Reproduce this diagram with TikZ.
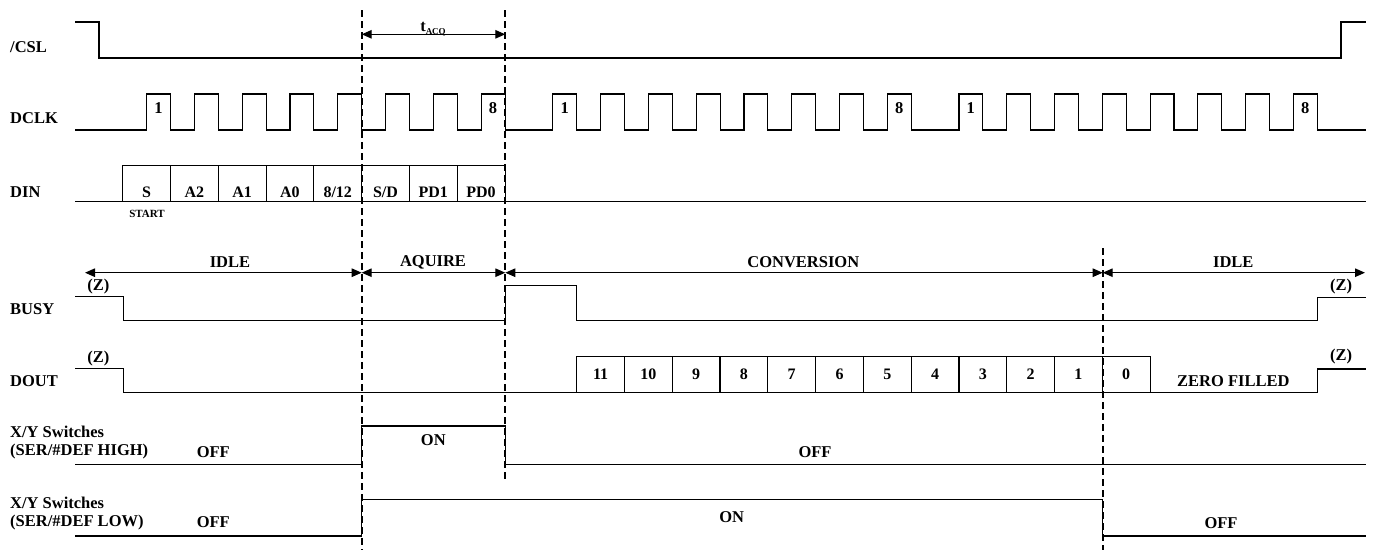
\documentclass[tikz,border=0pt]{standalone}
\usepackage{fontspec}
\setmainfont{Liberation Serif}
\usetikzlibrary{arrows.meta}
\begin{document}
\begin{tikzpicture}[x=1pt,y=-1pt,
  sig/.style={line width=1.1pt, line join=miter},
  vdash/.style={line width=2pt, dash pattern=on 7pt off 4pt},
  lbl/.style={inner sep=0pt, font=\fontsize{16.5}{18}\selectfont\bfseries},
  boxlbl/.style={inner sep=0pt, font=\fontsize{16}{18}\selectfont\bfseries},
  small/.style={inner sep=0pt, font=\fontsize{11}{12}\selectfont\bfseries},
  dim/.style={line width=1.1pt, {Triangle[length=10pt,width=8.5pt]}-{Triangle[length=10pt,width=8.5pt]}},
]
\useasboundingbox (0,0) rectangle (1374,550);

% ---------- signal names ----------
\node[lbl, anchor=west] (nCSL)  at (10,47)    {/CSL};
\node[lbl, anchor=west] (nDCLK) at (10,118)   {DCLK};
\node[lbl, anchor=west] (nDIN)  at (10,192)   {DIN};
\node[lbl, anchor=west] (nBUSY) at (10,309)   {BUSY};
\node[lbl, anchor=west] (nDOUT) at (10,380.7) {DOUT};
\node[lbl, anchor=west] (nXYa)  at (10,431.7) {X/Y Switches};
\node[lbl, anchor=west] (nXYb)  at (10,451.7) {(SER/\#DEF HIGH)};
\node[lbl, anchor=west] (nXYc)  at (10,503.3) {X/Y Switches};
\node[lbl, anchor=west] (nXYd)  at (10,522.3) {(SER/\#DEF LOW)};

% ---------- /CSL ----------
\draw[sig] (75,22) -- (99,22) -- (99,58) -- (1341,58) -- (1341,22) -- (1366,22);

% ---------- DCLK ----------
\draw[sig] (75,130)
  \foreach \k in {0,1,2,3,4,5,6,7,8.5,9.5,10.5,11.5,12.5,13.5,14.5,15.5,17,18,19,20,21,22,23,24}{
    -- ({146.7+\k*47.78},130) -- ++(0,-36) -- ++(23.89,0) -- ++(0,36)}
  -- (1366,130);
\foreach \k/\t/\n in {0/1/a,7/8/b,8.5/1/c,15.5/8/d,17/1/e,24/8/f}
  \node[lbl] (clk\n) at ({158.6+\k*47.78},108) {\t};

% ---------- DIN ----------
\draw[sig] (75,201.7) -- (1366,201.7);
\draw[sig] (122.7,201.7) -- (122.7,165.7) -- (505.3,165.7) -- (505.3,201.7);
\foreach \i in {0,...,6}
  \draw[sig] ({170.6+\i*47.78},165.7) -- ++(0,36);
\foreach \t [count=\i from 0] in {S,A2,A1,A0,8/12,S/D,PD1,PD0}
  \node[boxlbl] (din\i) at ({146.6+\i*47.78},192) {\t};
\node[small] (start) at (147,214) {START};

% ---------- dashed markers ----------
\draw[vdash] (361.7,10) -- (361.7,550);
\draw[vdash] (505.3,10) -- (505.3,479);
\draw[vdash] (1102.7,248) -- (1102.7,550);

% ---------- t_ACQ ----------
\coordinate (acqL) at (361.7,34.3);
\coordinate (acqR) at (505.3,34.3);
\draw[dim] (acqL) -- (acqR);
\node[lbl, anchor=base] (tacq) at (433,31.5) {t\raisebox{-3pt}{\fontsize{9}{9}\selectfont ACQ}};

% ---------- phases ----------
\coordinate (p0) at (85,272.7);
\coordinate (p1) at (361.7,272.7);
\coordinate (p2) at (505.3,272.7);
\coordinate (p3) at (1102.7,272.7);
\coordinate (p4) at (1365,272.7);
\draw[dim] (p0) -- (p1);
\draw[dim] (p1) -- (p2);
\draw[dim] (p2) -- (p3);
\draw[dim] (p3) -- (p4);
\node[lbl] (ph1) at (230,262.5)    {IDLE};
\node[lbl] (ph2) at (433,262.5)    {AQUIRE};
\node[lbl] (ph3) at (803.3,262.5)  {CONVERSION};
\node[lbl] (ph4) at (1233.3,262.5) {IDLE};

% ---------- BUSY ----------
\draw[sig] (75,296.7) -- (123.3,296.7) -- (123.3,320.7) -- (505.3,320.7) -- (505.3,285.7)
  -- (576.7,285.7) -- (576.7,320.7) -- (1317.7,320.7) -- (1317.7,297.3) -- (1366,297.3);
\node[lbl] (zb1) at (98.3,286.7) {(Z)};
\node[lbl] (zb2) at (1341,286.7) {(Z)};

% ---------- DOUT ----------
\draw[sig] (75,368.3) -- (123.3,368.3) -- (123.3,392.7) -- (1317.7,392.7) -- (1317.7,369) -- (1366,369);
\draw[sig] (576.7,392.7) -- (576.7,356.7) -- (1150.7,356.7) -- (1150.7,392.7);
\foreach \j in {1,...,11}
  \draw[sig] ({576.7+\j*47.78},356.7) -- ++(0,36);
\foreach \t [count=\j from 0] in {11,10,9,8,7,6,5,4,3,2,1,0}
  \node[boxlbl] (dout\j) at ({600.6+\j*47.78},374.5) {\t};
\node[lbl] (zd1) at (98.3,358.3) {(Z)};
\node[lbl] (zd2) at (1341,357) {(Z)};
\node[lbl] (zero) at (1233.3,381) {ZERO FILLED};

% ---------- X/Y switches, SER/#DEF HIGH ----------
\draw[sig] (75,464.3) -- (361.7,464.3) -- (361.7,426) -- (505.3,426) -- (505.3,464.3) -- (1366,464.3);
\node[lbl] (offa) at (213.3,451.7) {OFF};
\node[lbl] (ona)  at (433.3,440)   {ON};
\node[lbl] (offb) at (815,452.3)   {OFF};

% ---------- X/Y switches, SER/#DEF LOW ----------
\draw[sig] (75,536) -- (361.7,536) -- (361.7,499.6) -- (1102.7,499.6) -- (1102.7,536) -- (1366,536);
\node[lbl] (offc) at (213.3,522.3) {OFF};
\node[lbl] (onb)  at (731.7,517.3) {ON};
\node[lbl] (offd) at (1221,522.7)  {OFF};
\end{tikzpicture}
\end{document}
